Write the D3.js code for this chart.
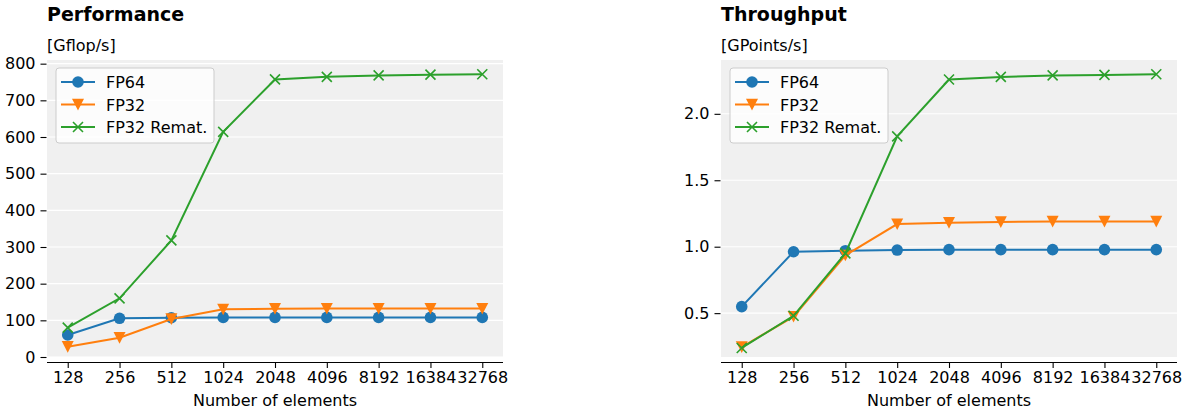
<!DOCTYPE html>
<html><head><meta charset="utf-8">
<script src="https://cdn.jsdelivr.net/npm/d3@7"></script>
<style>body{margin:0;background:#fff;} svg{display:block;font-family:"DejaVu Sans",sans-serif;}</style>
</head><body>
<svg id="c" width="1190" height="413"></svg>
<script>
const categories = ["128","256","512","1024","2048","4096","8192","16384","32768"];
const seriesNames = ["FP64","FP32","FP32 Remat."];
const perfFP64 = [60,105.5,107,108,108,108,108,108,108];
const perfFP32 = [28,52.5,103.5,130,131.5,132,132,132,132];
const perfRemat = [80,160,318,614,757,764,768,770,771];
const thrFP64 = [0.549,0.962,0.970,0.975,0.978,0.978,0.978,0.978,0.978];
const thrFP32 = [0.245,0.474,0.935,1.170,1.180,1.186,1.190,1.190,1.190];
const thrRemat = [0.238,0.480,0.950,1.830,2.258,2.278,2.289,2.293,2.298];
const perfTicks = [0,100,200,300,400,500,600,700,800];
const thrTicks = [0.5,1.0,1.5,2.0];
const colors = ["#1f77b4","#ff7f0e","#2ca02c"];
const markers = ["circle","triangle","x"];

const svg = d3.select("#c");

function drawMarker(g, type, x, y, color){
  if(type==="circle"){
    g.append("circle").attr("cx",x).attr("cy",y).attr("r",5.8).attr("fill",color);
  } else if(type==="triangle"){
    const s=6;
    g.append("path").attr("d",`M${x-s},${y-s*0.95}L${x+s},${y-s*0.95}L${x},${y+s*1.0}Z`).attr("fill",color);
  } else {
    const s=5;
    g.append("path").attr("d",`M${x-s},${y-s}L${x+s},${y+s}M${x-s},${y+s}L${x+s},${y-s}`)
      .attr("stroke",color).attr("stroke-width",1.6).attr("fill","none");
  }
}

function panel(opt){
  const g = svg.append("g");
  const x = d3.scalePoint().domain(categories).range([opt.left, opt.right]).padding(0.4);
  const y = d3.scaleLinear().domain(opt.ydomain).range([357, 60]);
  g.append("rect").attr("x",opt.left).attr("y",60).attr("width",opt.right-opt.left).attr("height",297).attr("fill","#f0f0f0");
  g.selectAll("line.grid").data(opt.ticks).enter().append("line")
    .attr("x1",opt.left).attr("x2",opt.right).attr("y1",d=>y(d)).attr("y2",d=>y(d))
    .attr("stroke","#fff").attr("stroke-width",1.1);
  const ya = g.append("g").attr("transform",`translate(${opt.left-0.5},0)`)
    .call(d3.axisLeft(y).tickValues(opt.ticks).tickFormat(opt.fmt).tickSize(6).tickPadding(5));
  ya.select(".domain").remove();
  ya.selectAll("text").attr("font-size","16px").attr("fill","#000").attr("font-family","DejaVu Sans");
  ya.selectAll("line").attr("stroke","#000").attr("stroke-width",1.1);
  const xa = g.append("g").attr("transform",`translate(0,362)`)
    .call(d3.axisBottom(x).tickSize(6).tickPadding(4));
  xa.select(".domain").attr("d",`M${opt.left},0.5H${opt.right}`).attr("stroke","#000").attr("stroke-width",1.2);
  xa.selectAll("text").attr("font-size","16px").attr("fill","#000").attr("font-family","DejaVu Sans");
  xa.selectAll("line").attr("stroke","#000").attr("stroke-width",1.1);
  g.append("text").attr("x",opt.left).attr("y",21).attr("font-size","19px").attr("font-weight","bold").text(opt.title);
  g.append("text").attr("x",opt.left).attr("y",51).attr("font-size","16px").text(opt.unit);
  g.append("text").attr("x",(opt.left+opt.right)/2).attr("y",406).attr("text-anchor","middle").attr("font-size","16px").text("Number of elements");
  const line = d3.line().x((d,i)=>x(categories[i])).y(d=>y(d));
  opt.series.forEach((s,k)=>{
    g.append("path").attr("d",line(s)).attr("fill","none").attr("stroke",colors[k]).attr("stroke-width",2);
    s.forEach((v,i)=>drawMarker(g,markers[k],x(categories[i]),y(v),colors[k]));
  });
  const lg = g.append("g").attr("transform",`translate(${opt.left+9},68)`);
  lg.append("rect").attr("x",0).attr("y",0).attr("width",158).attr("height",75).attr("rx",3)
    .attr("fill","#fff").attr("fill-opacity",0.8).attr("stroke","#cccccc").attr("stroke-width",1);
  seriesNames.forEach((n,k)=>{
    const yy = 14+k*22.5;
    lg.append("line").attr("x1",5).attr("x2",39).attr("y1",yy).attr("y2",yy).attr("stroke",colors[k]).attr("stroke-width",2);
    drawMarker(lg,markers[k],22,yy,colors[k]);
    lg.append("text").attr("x",50).attr("y",yy+6).attr("font-size","16px").text(n);
  });
}

panel({left:47,right:503,ydomain:[0,810],ticks:perfTicks,fmt:d3.format("d"),title:"Performance",unit:"[Gflop/s]",series:[perfFP64,perfFP32,perfRemat]});
panel({left:721,right:1177,ydomain:[0.17,2.405],ticks:thrTicks,fmt:d3.format(".1f"),title:"Throughput",unit:"[GPoints/s]",series:[thrFP64,thrFP32,thrRemat]});
</script>
</body></html>
